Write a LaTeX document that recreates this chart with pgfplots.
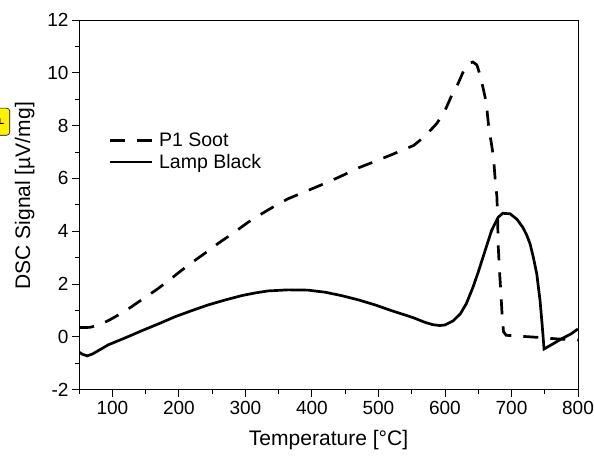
\documentclass[border=0pt]{standalone}
\usepackage{fontspec}
\setmainfont{Liberation Sans}
\usepackage{pgfplots}
\pgfplotsset{compat=1.18}
\begin{document}
\begin{tikzpicture}
\begin{axis}[
  scale only axis, width=498pt, height=369pt,
  xmin=50, xmax=800, ymin=-2, ymax=12,
  xtick={100,200,...,800}, minor xtick={50,150,...,750},
  ytick={-2,0,...,12}, minor ytick={-1,1,...,11},
  xtick pos=bottom, ytick pos=left, tick align=outside,
  major tick length=7pt, minor tick length=4pt,
  every tick/.style={black, line width=0.9pt},
  axis line style={line width=0.9pt},
  /pgf/number format/assume math mode=true,
  ticklabel style={font=\fontsize{19}{21}\selectfont},
  xticklabel style={yshift=-1pt},
  xlabel={Temperature [°C]}, ylabel={DSC Signal [µV/mg]},
  label style={font=\fontsize{21}{23}\selectfont},
  xlabel style={yshift=-9pt},
  ylabel style={yshift=6pt, xshift=9pt},
  legend style={draw=none, fill=none, at={(0.058,0.70)}, anchor=north west,
    font=\fontsize{19.5}{21}\selectfont, row sep=2pt, inner sep=0pt,
    nodes={inner ysep=2pt, inner xsep=6pt}},
  legend cell align=left,
  legend image code/.code={\draw[#1] (0pt,0pt) -- (42pt,0pt);},
]
\addplot[black, line width=2.7pt, dash pattern=on 15pt off 12pt] coordinates {
(50,0.35) (66,0.36) (80,0.45) (95,0.63) (107,0.8) (127,1.11) (146,1.44) (166,1.78)
(184,2.12) (203,2.5) (221,2.84) (242,3.22) (259,3.54) (280,3.9) (304,4.34) (327,4.7)
(345,4.97) (364,5.23) (384,5.44) (405,5.66) (423,5.85) (445,6.1) (470,6.4) (500,6.7)
(517,6.87) (535,7.06) (553,7.25) (570,7.6) (588,8.09) (600,8.57) (609,9.08) (620,9.61)
(629,10.13) (636,10.36) (642,10.41) (648,10.3) (653,9.9) (657,9.46) (662,8.89)
(666,7.9) (670,7.3) (673,6.8) (676,5.8) (678,5.35) (679,4.7) (680,3.5) (682,2.5)
(684,1.7) (686,0.8) (688,0.2) (692,0.06) (710,0.03) (740,-0.02) (770,-0.08) (800,-0.12)
};
\addlegendentry{P1 Soot}
\addplot[black, line width=2.7pt] coordinates {
(50,-0.58) (55,-0.66) (62,-0.72) (70,-0.65) (94,-0.3) (120,-0.03) (144,0.23)
(170,0.5) (194,0.76) (220,1.0) (244,1.21) (270,1.4) (294,1.56) (314,1.66) (334,1.74)
(364,1.78) (394,1.77) (420,1.69) (445,1.56) (470,1.4) (495,1.21) (520,0.99)
(552,0.73) (570,0.55) (582,0.46) (592,0.43) (600,0.45) (612,0.6) (623,0.87)
(632,1.25) (642,1.87) (650,2.45) (657,3.0) (664,3.55) (670,4.02) (680,4.53)
(687,4.68) (698,4.66) (708,4.46) (717,4.15) (723,3.85) (728,3.52) (733,3.0)
(738,2.39) (743,1.37) (746,0.5) (749,-0.46) (760,-0.3) (775,-0.08) (790,0.12) (800,0.3)
};
\addlegendentry{Lamp Black}
\end{axis}
\node[fill=yellow, draw=black, line width=0.6pt, rounded corners=3pt, rotate=90,
  font=\fontsize{12}{14}\selectfont, minimum width=27pt, minimum height=20pt, inner sep=1pt,
  anchor=south] at ([xshift=-69pt,yshift=-101.5pt]current axis.north west) {F};
\pgfresetboundingbox
\path ([xshift=-79pt,yshift=-66pt]current axis.south west) rectangle ([xshift=16pt,yshift=20pt]current axis.north east);
\end{tikzpicture}
\end{document}
